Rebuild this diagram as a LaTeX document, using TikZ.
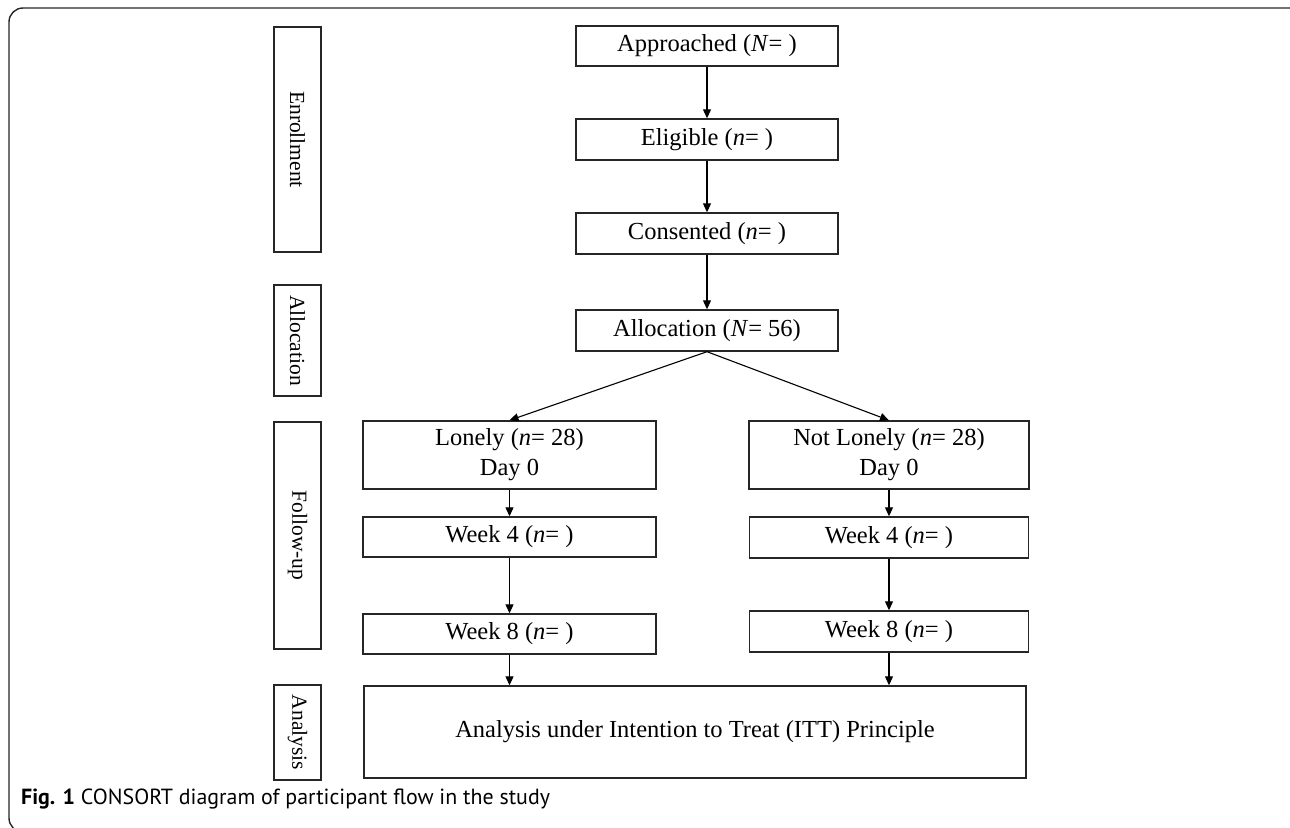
\documentclass[tikz,border=0pt]{standalone}
\usepackage{fontspec}
\setmainfont{Liberation Serif}
\newfontfamily\capfont{PT Sans}
\usetikzlibrary{arrows.meta,positioning}
\definecolor{ln}{HTML}{262626}
\tikzset{
  box/.style={draw=ln, line width=1.4pt, inner sep=0pt, align=center,
    font=\fontsize{24.5}{30}\selectfont, text=black},
  side/.style={draw=ln, line width=1.4pt, inner sep=0pt, minimum width=47pt,
    font=\fontsize{21.5}{24}\selectfont, text=black},
  arr/.style={draw=black, line width=1.1pt, -{Triangle[length=9pt,width=8pt]}},
}
\begin{document}
\begin{tikzpicture}[x=1pt,y=-1pt]
\fill[white] (0,0) rectangle (1290,827);
\useasboundingbox (0,0) rectangle (1290,827);
\begin{scope}
\clip (0,0) rectangle (1290,827);
\draw[ln, line width=1.4pt, rounded corners=14pt] (1310,8) -- (9,8) -- (9,832) -- (1310,832);
\end{scope}

% side labels
\node[side, minimum height=225pt] (sEnr) at (297.5,139.5) {\rotatebox{-90}{Enrollment}};
\node[side, minimum height=111pt] (sAll) at (297.5,340.5) {\rotatebox{-90}{Allocation}};
\node[side, minimum height=227pt] (sFol) at (297.5,535.5) {\rotatebox{-90}{Follow-up}};
\node[side, minimum height=95pt] (sAna) at (297.5,732.5) {\rotatebox{-90}{Analysis}};

% main column
\node[box, minimum width=262pt, minimum height=40pt] (appr) at (707,46) {Approached (\textit{N}= )};
\node[box, minimum width=262pt, minimum height=41pt] (elig) at (707,139.5) {Eligible (\textit{n}= )};
\node[box, minimum width=262pt, minimum height=41pt] (cons) at (707,233.5) {Consented (\textit{n}= )};
\node[box, minimum width=262pt, minimum height=41pt] (allo) at (707,330.5) {Allocation (\textit{N}= 56)};

% branches
\node[box, minimum width=293pt, minimum height=68pt] (lon) at (509.5,455) {Lonely (\textit{n}= 28)\\Day 0};
\node[box, minimum width=280pt, minimum height=68pt] (nlon) at (889,455) {Not Lonely (\textit{n}= 28)\\Day 0};
\node[box, minimum width=293pt, minimum height=40pt] (wfl) at (509.5,537) {Week 4 (\textit{n}= )};
\node[box, minimum width=293pt, minimum height=40pt] (wel) at (509.5,634) {Week 8 (\textit{n}= )};
\node[box, minimum width=279pt, minimum height=41pt] (wfr) at (889,537.5) {Week 4 (\textit{n}= )};
\node[box, minimum width=279pt, minimum height=41pt] (wer) at (889,631.5) {Week 8 (\textit{n}= )};

\node[box, minimum width=662pt, minimum height=92pt] (ana) at (695,732) {Analysis under Intention to Treat (ITT) Principle};

% connectors
\draw[arr] (appr) -- (elig);
\draw[arr] (elig) -- (cons);
\draw[arr] (cons) -- (allo);
\draw[arr] (allo.south) -- (lon.north);
\draw[arr] (allo.south) -- (nlon.north);
\draw[arr] (lon) -- (wfl);
\draw[arr] (wfl) -- (wel);
\draw[arr] (nlon) -- (wfr);
\draw[arr] (wfr) -- (wer);
\draw[arr] (wel.south) -- (wel.south |- ana.north);
\draw[arr] (wer.south) -- (wer.south |- ana.north);

% caption
\node[anchor=west, inner sep=0pt, font=\capfont\fontsize{21.9}{26}\selectfont] (cap) at (21,799)
  {\textbf{Fig. 1} CONSORT diagram of participant flow in the study};
\end{tikzpicture}
\end{document}
